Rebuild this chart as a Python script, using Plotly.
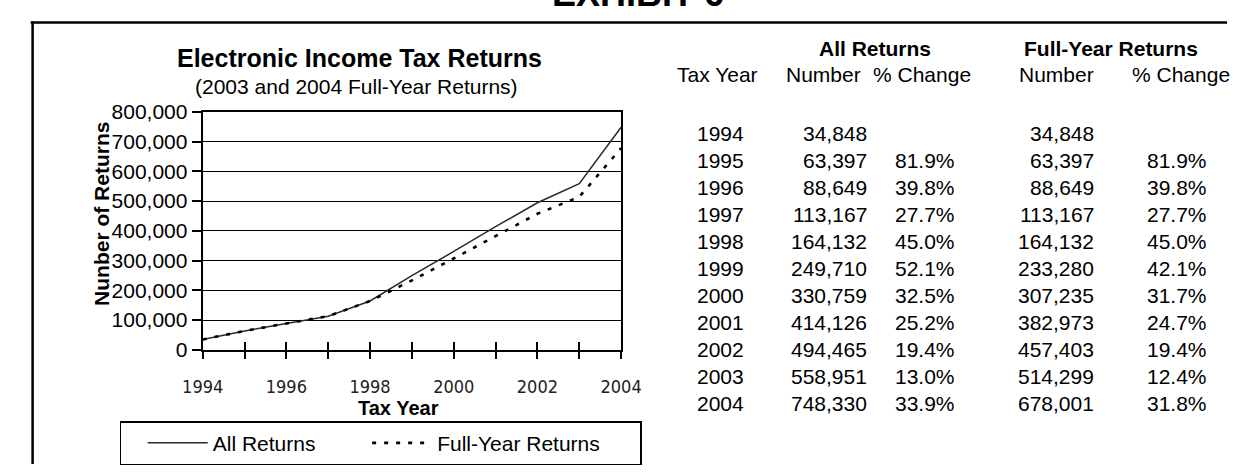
import plotly.graph_objects as go

years = [1994, 1995, 1996, 1997, 1998, 1999, 2000, 2001, 2002, 2003, 2004]
all_returns = [34848, 63397, 88649, 113167, 164132, 249710, 330759, 414126, 494465, 558951, 748330]
all_pct = ["", "81.9%", "39.8%", "27.7%", "45.0%", "52.1%", "32.5%", "25.2%", "19.4%", "13.0%", "33.9%"]
fy_returns = [34848, 63397, 88649, 113167, 164132, 233280, 307235, 382973, 457403, 514299, 678001]
fy_pct = ["", "81.9%", "39.8%", "27.7%", "45.0%", "42.1%", "31.7%", "24.7%", "19.4%", "12.4%", "31.8%"]
x_tick_labels = ["1994", "", "1996", "", "1998", "", "2000", "", "2002", "", "2004"]
series_names = ["All Returns", "Full-Year Returns"]

W, H = 1248, 475
FONT = "Liberation Sans, Arial, sans-serif"
NARROW = "Liberation Sans Narrow, Arial Narrow, DejaVu Sans Condensed, sans-serif"
NBSP = "\u00a0"

def px(x):
    return x / W

def py(y):
    return 1 - y / H

fig = go.Figure()
fig.add_trace(go.Scatter(x=years, y=all_returns, mode="lines", name=series_names[0] + NBSP * 8,
                         line=dict(color="#2a2a2a", width=1.5)))
fig.add_trace(go.Scatter(x=years, y=fy_returns, mode="lines", name=series_names[1] + NBSP * 6,
                         line=dict(color="#000000", width=2.6, dash="4px,8px")))
# invisible trace on overlay axis so inside ticks show (ticks cross the axis)
fig.add_trace(go.Scatter(x=years, y=all_returns, xaxis="x2", mode="lines",
                         line=dict(width=0), showlegend=False, hoverinfo="skip"))

x0, x1 = 188, 621
y0, y1 = 105, 355

fig.update_layout(
    width=W, height=H,
    margin=dict(l=0, r=0, t=0, b=0),
    paper_bgcolor="white", plot_bgcolor="white",
    font=dict(family=FONT, color="black"),
    showlegend=True,
    legend=dict(orientation="h", x=px(102), y=py(430), xanchor="left", yanchor="top",
                bordercolor="black", borderwidth=1.5, bgcolor="white",
                font=dict(family=FONT, size=21), itemwidth=60,
                title=dict(text=NBSP * 2, side="left", font=dict(size=21))),
    xaxis=dict(domain=[px(x0), px(x1)], range=[1994, 2004], tickvals=years, ticktext=x_tick_labels,
               ticks="outside", ticklen=7, tickcolor="black", tickwidth=1.5,
               showline=True, linecolor="black", linewidth=2, mirror=True,
               showgrid=False, zeroline=False, ticklabelstandoff=13,
               tickfont=dict(family=NARROW, size=18, color="#222222")),
    xaxis2=dict(overlaying="x", matches="x", domain=[px(x0), px(x1)], range=[1994, 2004],
                tickvals=years, ticks="inside", ticklen=8, tickcolor="black", tickwidth=1.5,
                showticklabels=False, showgrid=False, zeroline=False, showline=False,
                anchor="y", side="bottom"),
    yaxis=dict(domain=[py(y1), py(y0)], range=[0, 800000], dtick=100000, tickformat=",",
               ticks="outside", ticklen=9, tickcolor="black", tickwidth=1.5,
               showline=True, linecolor="black", linewidth=2, mirror=True,
               showgrid=True, gridcolor="black", gridwidth=1, zeroline=False,
               tickfont=dict(family=FONT, size=21)),
)

# Frame lines of the exhibit
fig.add_shape(type="line", xref="paper", yref="paper", x0=px(10), x1=1, y0=py(11), y1=py(11),
              line=dict(color="black", width=2.5))
fig.add_shape(type="line", xref="paper", yref="paper", x0=px(12), x1=px(12), y0=py(10), y1=0,
              line=dict(color="black", width=2.5))

ann = []
def text(x, y, s, size=21, bold=False, anchor="center", family=FONT, angle=0):
    ann.append(dict(x=px(x), y=py(y), xref="paper", yref="paper", text=(f"<b>{s}</b>" if bold else s),
                    showarrow=False, xanchor=anchor, yanchor="middle", textangle=angle,
                    font=dict(family=family, size=size, color="black")))

text(638, -19, "EXHIBIT 6", size=36, bold=True)
text(350, 48, "Electronic Income Tax Returns", size=25, bold=True)
text(347, 78, "(2003 and 2004 Full-Year Returns)", size=21)
text(84, 212, "Nunber of Returns", size=21, bold=True, angle=-90)
text(391, 416, "Tax Year", size=20, bold=True)

# Table
text(884, 38, "All Returns", size=21, bold=True)
text(1128, 38, "Full-Year Returns", size=21, bold=True)
text(721, 66, "Tax Year")
text(830, 66, "Number")
text(932, 66, "% Change")
text(1072, 66, "Number")
text(1200, 66, "% Change")

row_y0, row_step = 127.5, 28.35
for i, yr in enumerate(years):
    yy = row_y0 + i * row_step
    text(697, yy, str(yr), anchor="left")
    text(878, yy, f"{all_returns[i]:,}", anchor="right")
    if all_pct[i]:
        text(969, yy, all_pct[i], anchor="right")
    text(1112, yy, f"{fy_returns[i]:,}", anchor="right")
    if fy_pct[i]:
        text(1229, yy, fy_pct[i], anchor="right")

fig.update_layout(annotations=ann)
fig.write_html("out.html", config={"displayModeBar": False},
               post_script="document.body.style.margin='0px';")
